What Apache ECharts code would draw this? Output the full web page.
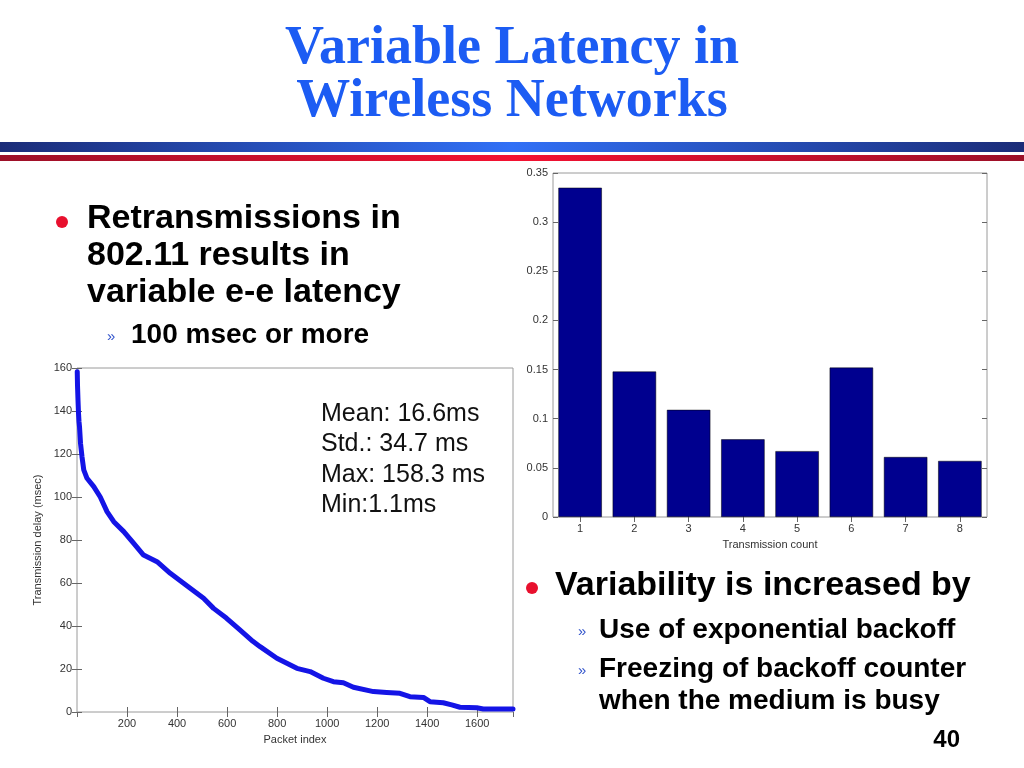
<!DOCTYPE html>
<html><head><meta charset="utf-8">
<script src="https://cdn.jsdelivr.net/npm/echarts@6/dist/echarts.min.js"></script>
<style>html,body{margin:0;padding:0;background:#fff}#c{width:1024px;height:768px}</style>
</head><body><div id="c"></div>
<script>
// Left chart: sorted transmission delay per packet
const packetIndex = [1,2,4,6,8,10,14,20,27,40,67,93,120,147,187,226,266,320,373,426,506,546,597,650,703,732,799,879,932,985,1025,1065,1105,1185,1238,1291,1331,1385,1411,1464,1498,1531,1598,1624,1743];
const delayMs = [158.3,152,145,139,135,132.7,125,118.7,112.6,108.7,104.8,100,93.2,88.5,83.9,78.5,73,69.9,64.5,59.9,52.9,48.2,43.7,38.3,32.9,30.4,25,20.3,18.8,15.7,14.1,13.6,11.5,9.5,9.1,8.7,7.1,6.8,4.8,4.3,3.3,2.2,2.0,1.4,1.4];
// Right chart: distribution of transmission count
const transmissionCount = ['1','2','3','4','5','6','7','8'];
const probability = [0.335,0.148,0.109,0.079,0.067,0.152,0.061,0.057];
const statsLines = ['Mean: 16.6ms','Std.: 34.7 ms','Max: 158.3 ms','Min:1.1ms'];
const titleLines = ['Variable Latency in','Wireless Networks'];
const bullet1Lines = ['Retransmissions in','802.11 results in','variable e-e latency'];
const sub1 = '100 msec or more';
const bullet2 = 'Variability is increased by';
const sub2a = 'Use of exponential backoff';
const sub2bLines = ['Freezing of backoff counter','when the medium is busy'];
const pageNo = '40';

const chart = echarts.init(document.getElementById('c'));
const SANS = 'Liberation Sans, Arial, sans-serif';
const SERIF = 'Liberation Serif, Times New Roman, serif';
const axisTxt = {color:'#333', fontSize:11, fontFamily:SANS};
const tickIn = {show:true, inside:true, length:5, lineStyle:{color:'#666'}};

const g = [];
g.push({type:'rect', shape:{x:0,y:142,width:1024,height:10}, style:{fill:new echarts.graphic.LinearGradient(0,0,1,0,[{offset:0,color:'#1b2c78'},{offset:0.5,color:'#3170f6'},{offset:1,color:'#1b2c78'}])}});
g.push({type:'rect', shape:{x:0,y:155,width:1024,height:6}, style:{fill:new echarts.graphic.LinearGradient(0,0,1,0,[{offset:0,color:'#9c1028'},{offset:0.5,color:'#f41232'},{offset:1,color:'#9c1028'}])}});
titleLines.forEach((t,i)=>g.push({type:'text', style:{text:t, x:512, y:49+i*53.4, align:'center', verticalAlign:'middle', font:'bold 54px '+SERIF, fill:'#1c5cf3'}}));
bullet1Lines.forEach((t,i)=>g.push({type:'text', style:{text:t, x:87, y:219+i*37, verticalAlign:'middle', font:'bold 34px '+SANS, fill:'#000'}}));
g.push({type:'circle', shape:{cx:62, cy:222, r:6}, style:{fill:'#e8102e'}});
g.push({type:'text', style:{text:'»', x:107, y:337, verticalAlign:'middle', font:'15px '+SANS, fill:'#3355cc'}});
g.push({type:'text', style:{text:sub1, x:131, y:335, verticalAlign:'middle', font:'bold 28px '+SANS, fill:'#000'}});
g.push({type:'circle', shape:{cx:532, cy:588, r:6}, style:{fill:'#e8102e'}});
g.push({type:'text', style:{text:bullet2, x:555, y:586, verticalAlign:'middle', font:'bold 34px '+SANS, fill:'#000'}});
g.push({type:'text', style:{text:'»', x:578, y:632, verticalAlign:'middle', font:'15px '+SANS, fill:'#3355cc'}});
g.push({type:'text', style:{text:sub2a, x:599, y:630, verticalAlign:'middle', font:'bold 28px '+SANS, fill:'#000'}});
g.push({type:'text', style:{text:'»', x:578, y:671, verticalAlign:'middle', font:'15px '+SANS, fill:'#3355cc'}});
sub2bLines.forEach((t,i)=>g.push({type:'text', style:{text:t, x:599, y:669+i*32, verticalAlign:'middle', font:'bold 28px '+SANS, fill:'#000'}}));
g.push({type:'text', style:{text:pageNo, x:960, y:740, align:'right', verticalAlign:'middle', font:'bold 24px '+SANS, fill:'#000'}});
statsLines.forEach((t,i)=>g.push({type:'text', z:10, style:{text:t, x:321, y:414+i*30.5, verticalAlign:'middle', font:'25px '+SANS, fill:'#111'}}));

chart.setOption({
  backgroundColor:'#fff',
  animation:false,
  graphic:g,
  grid:[
    {left:77, top:368, width:436, height:344, show:true, borderColor:'#9a9a9a', borderWidth:1, backgroundColor:'#fff'},
    {left:553, top:173, width:434, height:344, show:true, borderColor:'#9a9a9a', borderWidth:1, backgroundColor:'#fff'}
  ],
  xAxis:[
    {gridIndex:0, type:'value', min:0, max:1743, interval:200, name:'Packet index', nameLocation:'middle', nameGap:22, nameTextStyle:axisTxt,
     axisLine:{show:false}, axisTick:tickIn, splitLine:{show:false}, axisLabel:Object.assign({showMinLabel:false, showMaxLabel:false, margin:6, formatter:v=>String(v)}, axisTxt)},
    {gridIndex:0, type:'value', position:'top', min:0, max:1743, interval:200, axisLine:{show:false}, axisTick:tickIn, splitLine:{show:false}, axisLabel:{show:false}},
    {gridIndex:1, type:'category', data:transmissionCount, name:'Transmission count', nameLocation:'middle', nameGap:22, nameTextStyle:axisTxt,
     axisLine:{show:false}, axisTick:Object.assign({alignWithLabel:true}, tickIn), axisLabel:Object.assign({margin:6}, axisTxt)},
    {gridIndex:1, type:'category', data:transmissionCount, position:'top', axisLine:{show:false}, axisTick:Object.assign({alignWithLabel:true}, tickIn), axisLabel:{show:false}}
  ],
  yAxis:[
    {gridIndex:0, type:'value', min:0, max:160, interval:20, name:'Transmission delay (msec)', nameLocation:'middle', nameGap:34, nameTextStyle:axisTxt,
     axisLine:{show:false}, axisTick:tickIn, splitLine:{show:false}, axisLabel:Object.assign({margin:5}, axisTxt)},
    {gridIndex:0, type:'value', position:'right', min:0, max:160, interval:20, axisLine:{show:false}, axisTick:tickIn, splitLine:{show:false}, axisLabel:{show:false}},
    {gridIndex:1, type:'value', min:0, max:0.35, interval:0.05, axisLine:{show:false}, axisTick:tickIn, splitLine:{show:false}, axisLabel:Object.assign({margin:5}, axisTxt)},
    {gridIndex:1, type:'value', position:'right', min:0, max:0.35, interval:0.05, axisLine:{show:false}, axisTick:tickIn, splitLine:{show:false}, axisLabel:{show:false}}
  ],
  series:[
    {type:'line', xAxisIndex:0, yAxisIndex:0, data:packetIndex.map((x,i)=>[x,delayMs[i]]), showSymbol:false,
     lineStyle:{color:'#1414e6', width:5, cap:'round', join:'round'}, clip:false},
    {type:'bar', xAxisIndex:2, yAxisIndex:2, data:probability, barWidth:'80%',
     itemStyle:{color:'#00008f', borderColor:'#000', borderWidth:0.5}}
  ]
});
</script></body></html>
